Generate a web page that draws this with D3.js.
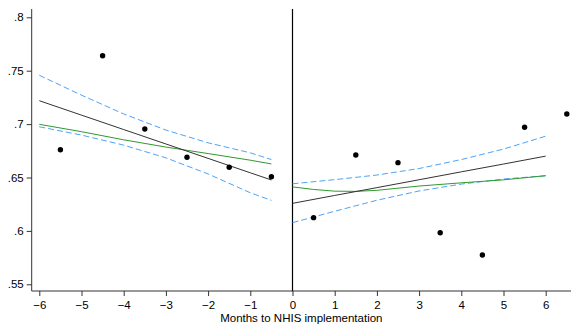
<!DOCTYPE html>
<html>
<head>
<meta charset="utf-8">
<script src="https://cdn.jsdelivr.net/npm/d3@7"></script>
<style>
  body { margin: 0; background: #fff; }
  svg { display: block; font-family: "Liberation Sans", Arial, sans-serif; }
</style>
</head>
<body>
<svg id="chart" width="571" height="324"></svg>
<script>
// Monthly means around NHIS implementation.
const monthsBefore = [-5.5, -4.5, -3.5, -2.5, -1.5, -0.5];
const valuesBefore = [0.676, 0.764, 0.6954, 0.6689, 0.6596, 0.6507];
const monthsAfter = [0.5, 1.5, 2.5, 3.5, 4.5, 5.5, 6.5];
const valuesAfter = [0.6124, 0.6711, 0.6639, 0.5983, 0.5774, 0.697, 0.7095];

// Linear fit with CI, and lowess curve.
const fitXBefore = [-6, -5, -4, -3, -2, -1, -0.5];
const fitBefore = [0.7219, 0.7084, 0.6949, 0.6814, 0.6679, 0.6544, 0.6477];
const upperBefore = [0.7457, 0.7271, 0.7095, 0.6944, 0.6825, 0.6731, 0.6668];
const lowerBefore = [0.6975, 0.6897, 0.6803, 0.6684, 0.6533, 0.6357, 0.6286];
const lowessBefore = [0.6998, 0.6929, 0.6853, 0.6785, 0.6724, 0.6662, 0.6627];

const fitXAfter = [0, 1, 2, 3, 4, 5, 6];
const fitAfter = [0.6258, 0.6332, 0.6405, 0.6479, 0.6553, 0.6626, 0.67];
const upperAfter = [0.6441, 0.648, 0.6523, 0.6584, 0.6668, 0.6766, 0.6887];
const lowerAfter = [0.6077, 0.6184, 0.6287, 0.6374, 0.6438, 0.6486, 0.6516];
const lowessXAfter = [0, 0.5, 1, 1.5, 2, 3, 4, 5, 6];
const lowessAfter = [0.6412, 0.6388, 0.6372, 0.637, 0.638, 0.642, 0.645, 0.6478, 0.6517];

const xTicks = [-6, -5, -4, -3, -2, -1, 0, 1, 2, 3, 4, 5, 6];
const yTicks = [0.55, 0.6, 0.65, 0.7, 0.75, 0.8];

const svg = d3.select('#chart');
const plot = { left: 31.7, right: 571, top: 9, bottom: 291 };

const x = d3.scaleLinear().domain([-6, 6]).range([39.3, 545.7]);
const y = d3.scaleLinear().domain([0.55, 0.8]).range([284.3, 17.3]);

// Axes.
const fmt = d => d3.format('.2~f')(d).replace(/^0/, '');
const yAxis = svg.append('g')
  .attr('transform', `translate(${plot.left},0)`)
  .call(d3.axisLeft(y).tickValues(yTicks).tickFormat(fmt).tickSize(5).tickPadding(3).tickSizeOuter(0));
yAxis.select('.domain').attr('d', `M0,${plot.top}V${plot.bottom}`);

const xAxis = svg.append('g')
  .attr('transform', `translate(0,${plot.bottom})`)
  .call(d3.axisBottom(x).tickValues(xTicks).tickFormat(d3.format('d')).tickSize(5).tickPadding(5).tickSizeOuter(0));
xAxis.select('.domain').attr('d', `M${plot.left},0H${plot.right}`);

svg.selectAll('.tick text').attr('font-size', 11.5).attr('fill', '#000')
  .attr('font-family', '"Liberation Sans", Arial, sans-serif');
svg.selectAll('.domain, .tick line').attr('stroke', '#333');

svg.append('text')
  .attr('x', (plot.left + plot.right) / 2).attr('y', 321.5)
  .attr('text-anchor', 'middle').attr('font-size', 11.5)
  .text('Months to NHIS implementation');

// Cutoff line.
svg.append('line')
  .attr('x1', x(0)).attr('x2', x(0)).attr('y1', plot.top).attr('y2', plot.bottom)
  .attr('stroke', '#000').attr('stroke-width', 1.2);

const line = d3.line().x(d => x(d[0])).y(d => y(d[1]));
const draw = (xs, ys, color, dash) => {
  svg.append('path')
    .datum(d3.zip(xs, ys))
    .attr('d', line)
    .attr('fill', 'none')
    .attr('stroke', color)
    .attr('stroke-width', 1)
    .attr('stroke-dasharray', dash || null);
};

draw(fitXBefore, upperBefore, '#4fa3f7', '6,3');
draw(fitXBefore, lowerBefore, '#4fa3f7', '6,3');
draw(fitXBefore, lowessBefore, '#2f9a2f');
draw(fitXBefore, fitBefore, '#333');

draw(fitXAfter, upperAfter, '#4fa3f7', '6,3');
draw(fitXAfter, lowerAfter, '#4fa3f7', '6,3');
draw(lowessXAfter, lowessAfter, '#2f9a2f');
draw(fitXAfter, fitAfter, '#333');

// Points.
svg.append('g')
  .selectAll('circle')
  .data(d3.zip(monthsBefore.concat(monthsAfter), valuesBefore.concat(valuesAfter)))
  .join('circle')
  .attr('cx', d => x(d[0]))
  .attr('cy', d => y(d[1]))
  .attr('r', 2.7)
  .attr('fill', '#000');
</script>
</body>
</html>
